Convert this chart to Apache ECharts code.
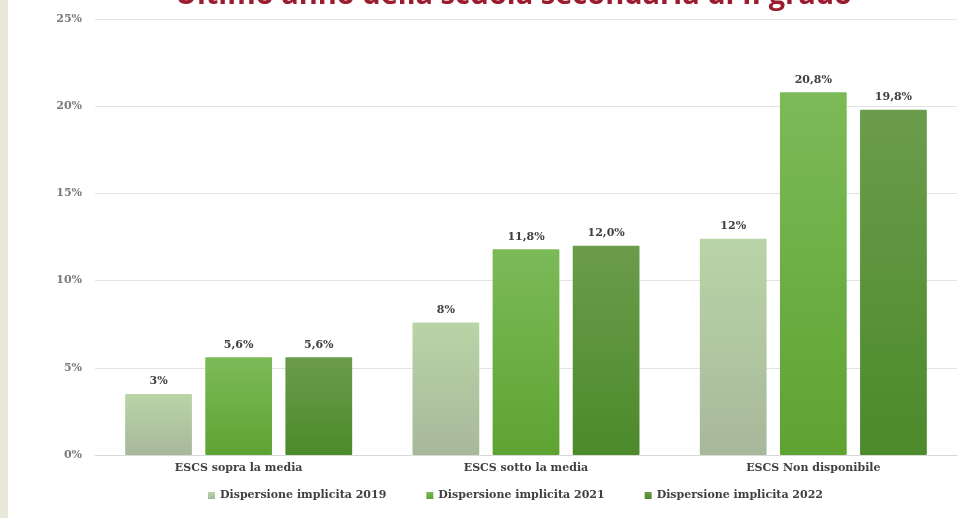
<!DOCTYPE html>
<html lang="it">
  <head>
    <meta charset="UTF-8" />
    <script src="https://cdn.jsdelivr.net/npm/echarts@6/dist/echarts.min.js"></script>
    <title>Dispersione implicita</title>
    <style>
      html, body { margin: 0; padding: 0; background: #fff; }
      #app { width: 974px; height: 518px; }
    </style>
  </head>
  <body>
    <div id="app"></div>

    <script>
      // dati
      const categories = ["ESCS sopra la media", "ESCS sotto la media", "ESCS Non disponibile"];
      const seriesNames = ["Dispersione implicita 2019", "Dispersione implicita 2021", "Dispersione implicita 2022"];
      const values2019 = [3.5, 7.6, 12.4];
      const values2021 = [5.6, 11.8, 20.8];
      const values2022 = [5.6, 12.0, 19.8];
      const labels2019 = ["3%", "8%", "12%"];
      const labels2021 = ["5,6%", "11,8%", "20,8%"];
      const labels2022 = ["5,6%", "12,0%", "19,8%"];
      const yTicks = [0, 5, 10, 15, 20, 25];

      const serif = "'DejaVu Serif', 'Liberation Serif', serif";
      const echart = echarts.init(document.getElementById("app"));

      function grad(top, bottom) {
        return new echarts.graphic.LinearGradient(0, 0, 0, 1, [
          { offset: 0, color: top },
          { offset: 1, color: bottom },
        ]);
      }

      function barSeries(name, data, labels, top, bottom) {
        return {
          name: name,
          type: "bar",
          data: data,
          barGap: "20%",
          barCategoryGap: "21%",
          itemStyle: { color: grad(top, bottom), borderRadius: 1 },
          label: {
            show: true,
            position: "top",
            distance: 7,
            fontFamily: serif,
            fontWeight: "bold",
            fontSize: 11,
            color: "#404040",
            formatter: (p) => labels[p.dataIndex],
          },
        };
      }

      echart.setOption({
        backgroundColor: "#ffffff",
        animation: false,
        graphic: [
          { type: "rect", left: 0, top: 0, shape: { width: 8, height: 518 }, style: { fill: "#e9e7da" } },
        ],
        title: {
          text: "Ultimo anno della scuola secondaria di II grado",
          left: 170,
          top: -24,
          textStyle: {
            fontFamily: "'Open Sans', sans-serif",
            fontWeight: "bold",
            fontSize: 29,
            color: "#9b1c2e",
          },
        },
        grid: { left: 95, right: 17, top: 19, bottom: 63 },
        legend: {
          bottom: 12,
          left: 203,
          itemWidth: 7,
          itemHeight: 7,
          itemGap: 40,
          icon: "rect",
          textStyle: { fontFamily: serif, fontWeight: "bold", fontSize: 11, color: "#404040" },
          data: seriesNames,
        },
        xAxis: {
          type: "category",
          data: categories,
          axisTick: { show: false },
          axisLine: { lineStyle: { color: "#d9d9d9" } },
          axisLabel: {
            margin: 8,
            fontFamily: serif,
            fontWeight: "bold",
            fontSize: 11,
            color: "#404040",
          },
        },
        yAxis: {
          type: "value",
          min: yTicks[0],
          max: yTicks[yTicks.length - 1],
          interval: 5,
          axisLabel: {
            margin: 13,
            fontFamily: serif,
            fontWeight: "bold",
            fontSize: 11,
            color: "#7a7a7a",
            formatter: "{value}%",
          },
          splitLine: { lineStyle: { color: "#e3e3e3" } },
        },
        series: [
          barSeries(seriesNames[0], values2019, labels2019, "#b9d4a6", "#a8b89b"),
          barSeries(seriesNames[1], values2021, labels2021, "#7cba58", "#5ea332"),
          barSeries(seriesNames[2], values2022, labels2022, "#6b9c4b", "#4c8a2b"),
        ],
      });
    </script>
  </body>
</html>
